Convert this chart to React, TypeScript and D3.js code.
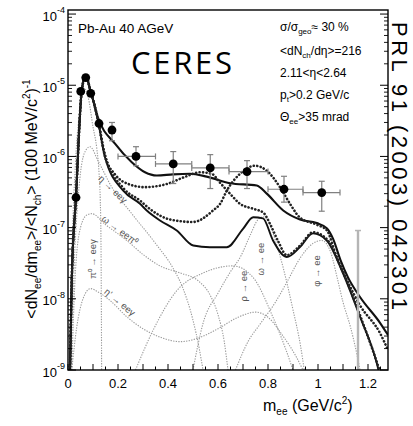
import React from "react";
import * as d3 from "d3";

const W = 413;
const H = 426;

// ---- data points (CERES Pb-Au 40 AGeV) ----
const massPts = [0.032, 0.051, 0.071, 0.091, 0.124, 0.176, 0.272, 0.421, 0.569, 0.716, 0.864, 1.015];
const yieldPts = [2.65e-7, 8.2e-6, 1.28e-5, 7.7e-6, 2.9e-6, 2.35e-6, 1.0e-6, 7.85e-7, 6.9e-7, 6.12e-7, 3.46e-7, 3.11e-7];
const errHi = [null, null, null, null, null, 3.0e-6, 1.37e-6, 1.17e-6, 1.06e-6, 8.73e-7, 5.26e-7, 4.48e-7];
const errLo = [null, null, null, null, null, 1.66e-6, 7.4e-7, 4.16e-7, 3.54e-7, 3.54e-7, 2.28e-7, 1.7e-7];
const binLo = [null, null, null, null, null, null, 0.2, 0.35, 0.495, 0.644, 0.8, 0.94];
const binHi = [null, null, null, null, null, null, 0.35, 0.495, 0.644, 0.8, 0.94, 1.088];
const sysMass = 1.16;
const sysHi = 9.1e-8;
const sysLo = 1e-9;

// ---- model curves (thick black) ----
const inMedium: [number, number][] = [
  [0.008, 1e-9], [0.015, 1.8e-8], [0.032, 2.7e-7], [0.055, 8.4e-6], [0.071, 1.36e-5], [0.088, 8.9e-6],
  [0.12, 3.5e-6], [0.188, 1.51e-6], [0.255, 8.3e-7], [0.308, 6e-7], [0.355, 5.4e-7], [0.42, 5.6e-7],
  [0.488, 5.7e-7], [0.555, 5.2e-7], [0.648, 4.2e-7], [0.755, 3.9e-7], [0.795, 3.0e-7], [0.861, 1.74e-7],
  [0.928, 1.3e-7], [0.995, 1.16e-7], [1.035, 9.8e-8], [1.06, 7e-8], [1.09, 3.5e-8], [1.12, 2e-8],
  [1.168, 1.06e-8], [1.248, 4.6e-9], [1.28, 3.1e-9],
];
const droppingMass: [number, number][] = [
  [0.008, 1e-9], [0.015, 1.8e-8], [0.032, 2.7e-7], [0.055, 8.4e-6], [0.071, 1.36e-5], [0.088, 8.9e-6],
  [0.12, 3.3e-6], [0.148, 1.05e-6], [0.221, 3.6e-7], [0.288, 2.4e-7], [0.33, 1.8e-7], [0.408, 1.3e-7],
  [0.5, 1.2e-7], [0.58, 1.74e-7], [0.61, 2.2e-7], [0.635, 3.3e-7], [0.688, 5.7e-7], [0.748, 7.4e-7],
  [0.795, 6.3e-7], [0.848, 3.7e-7], [0.888, 2.16e-7], [0.928, 1.38e-7], [0.995, 1.1e-7], [1.035, 9.2e-8],
  [1.075, 3.8e-8], [1.12, 1.7e-8], [1.168, 8.1e-9], [1.248, 3.3e-9], [1.28, 1.9e-9],
];
const broadened: [number, number][] = [
  [0.008, 1e-9], [0.015, 1.8e-8], [0.032, 2.7e-7], [0.055, 8.4e-6], [0.071, 1.36e-5], [0.088, 8.9e-6],
  [0.12, 3.2e-6], [0.148, 1.0e-6], [0.188, 5.6e-7], [0.25, 4.0e-7], [0.308, 3.7e-7], [0.395, 4.1e-7],
  [0.47, 5.2e-7], [0.528, 6e-7], [0.575, 5.7e-7], [0.61, 4.2e-7], [0.648, 3.0e-7], [0.688, 2.16e-7],
  [0.741, 1.84e-7], [0.781, 1.63e-7], [0.808, 1.13e-7], [0.84, 6.5e-8], [0.875, 4.1e-8], [0.928, 5.6e-8],
  [0.98, 8.6e-8], [1.035, 6.9e-8], [1.1, 2.4e-8], [1.168, 5.9e-9], [1.235, 1.3e-9], [1.25, 9e-10],
];
const cocktail: [number, number][] = [
  [0.008, 1e-9], [0.015, 1.8e-8], [0.032, 2.7e-7], [0.055, 8.4e-6], [0.071, 1.36e-5], [0.088, 8.9e-6],
  [0.12, 3.2e-6], [0.148, 9.7e-7], [0.221, 3.3e-7], [0.288, 2.16e-7], [0.315, 1.74e-7], [0.368, 1.26e-7],
  [0.435, 9.1e-8], [0.501, 5.6e-8], [0.568, 5.3e-8], [0.635, 5.3e-8], [0.7, 9.6e-8], [0.741, 1.4e-7],
  [0.78, 1.35e-7], [0.82, 6.6e-8], [0.875, 3.86e-8], [0.928, 5.33e-8], [0.98, 8.3e-8], [1.035, 6.6e-8],
  [1.1, 2.28e-8], [1.168, 5.6e-9], [1.235, 1.25e-9], [1.245, 9e-10],
];

// ---- cocktail components (thin grey dotted) ----
const pi0Dalitz: [number, number][] = [
  [0.008, 1e-9], [0.015, 3e-8], [0.03, 8e-7], [0.05, 5e-6], [0.065, 9e-6], [0.08, 7e-6], [0.1, 2.6e-6],
  [0.115, 1.3e-6], [0.124, 6e-7], [0.129, 2.5e-7], [0.132, 6e-8], [0.1345, 1e-9],
];
const etaDalitz: [number, number][] = [
  [0.012, 1e-9], [0.025, 3e-8], [0.045, 4e-7], [0.065, 1.1e-6], [0.088, 1.37e-6], [0.12, 8.7e-7],
  [0.175, 3.7e-7], [0.255, 1.57e-7], [0.35, 6e-8], [0.42, 2.7e-8], [0.46, 1.4e-8], [0.5, 5e-9],
  [0.525, 2e-9], [0.54, 1e-9],
];
const omegaDalitz: [number, number][] = [
  [0.015, 1e-9], [0.03, 2.5e-8], [0.05, 1e-7], [0.075, 1.5e-7], [0.095, 1.57e-7], [0.15, 1.1e-7],
  [0.235, 6.6e-8], [0.3, 4.2e-8], [0.368, 2.9e-8], [0.45, 2.3e-8], [0.52, 1.8e-8], [0.57, 1.1e-8],
  [0.6, 6e-9], [0.625, 2.5e-9], [0.64, 1e-9],
];
const etaPrimeDalitz: [number, number][] = [
  [0.015, 1e-9], [0.035, 4e-9], [0.06, 1e-8], [0.09, 1.39e-8], [0.12, 1.25e-8], [0.168, 9.5e-9],
  [0.235, 5.6e-9], [0.3, 3.8e-9], [0.368, 2.9e-9], [0.45, 2.5e-9], [0.52, 2.8e-9], [0.6, 3.8e-9],
  [0.68, 5.5e-9], [0.75, 6.5e-9], [0.8, 5.5e-9], [0.86, 3e-9], [0.91, 1.6e-9], [0.94, 1e-9],
];
const rhoEE: [number, number][] = [
  [0.27, 1e-9], [0.34, 3.6e-9], [0.435, 1.3e-8], [0.54, 2.3e-8], [0.66, 2.9e-8], [0.74, 2e-8],
  [0.82, 5.5e-9], [0.87, 2e-9], [0.9, 1e-9],
];
const omegaEE: [number, number][] = [
  [0.5, 1e-9], [0.54, 4.5e-9], [0.6, 1.2e-8], [0.65, 2.4e-8], [0.69, 3.9e-8], [0.73, 8e-8], [0.76, 1.3e-7],
  [0.78, 1.42e-7], [0.8, 1.25e-7], [0.83, 6.5e-8], [0.86, 2.8e-8], [0.9, 7e-9], [0.93, 2.2e-9], [0.945, 1e-9],
];
const phiEE: [number, number][] = [
  [0.67, 1e-9], [0.72, 2.5e-9], [0.77, 4.5e-9], [0.83, 9e-9], [0.875, 1.7e-8], [0.93, 3.8e-8], [0.98, 6e-8],
  [1.015, 6.6e-8], [1.05, 4.6e-8], [1.075, 2.1e-8], [1.1, 9e-9], [1.13, 4e-9], [1.155, 1.7e-9], [1.168, 1e-9],
];

// ---- axes ----
const xTickLabels = [0, 0.2, 0.4, 0.6, 0.8, 1, 1.2];
const yDecades = [-9, -8, -7, -6, -5, -4];

const FONT = "'Liberation Sans', Arial, Helvetica, sans-serif";

export default function App() {
  const x = d3.scaleLinear().domain([0, 1.28]).range([68, 388]);
  const y = d3.scaleLog().domain([1e-9, 1.14e-4]).range([370, 10]);
  const line = d3
    .line<[number, number]>()
    .x((d) => x(d[0]))
    .y((d) => y(d[1]))
    .curve(d3.curveMonotoneX);

  const x0 = x(0), x1 = x(1.28), yB = y(1e-9), yT = y(1.14e-4);

  const xMinor = d3.range(0, 1.2801, 0.05);
  const yMinor: number[] = [];
  for (let e = -9; e <= -4; e++) for (let k = 2; k <= 9; k++) {
    const v = k * Math.pow(10, e);
    if (v < 1.14e-4) yMinor.push(v);
  }

  const greyStyle = { fill: "none", stroke: "#9a9a9a", strokeWidth: 1.1, strokeDasharray: "1.3,1.3" };
  const compLabel = (txt: React.ReactNode, cx: number, cy: number, rot: number, key: string) => (
    <text key={key} transform={`translate(${cx},${cy}) rotate(${rot})`} textAnchor="middle"
      dominantBaseline="central" fontSize={9.5} fill="#555" fontFamily={FONT}>{txt}</text>
  );

  return (
    <svg width={W} height={H} style={{ display: "block", position: "absolute", left: 0, top: 0 }}>
      <rect x={0} y={0} width={W} height={H} fill="#fff" />
      <defs>
        <clipPath id="plot">
          <rect x={x0} y={yT} width={x1 - x0} height={yB - yT} />
        </clipPath>
      </defs>

      <g clipPath="url(#plot)">
        {[pi0Dalitz, etaDalitz, omegaDalitz, etaPrimeDalitz, rhoEE, omegaEE, phiEE].map((c, i) => (
          <path key={"g" + i} d={line(c) || ""} style={greyStyle} />
        ))}
        <path d={line(cocktail) || ""} fill="none" stroke="#111" strokeWidth={1.9} />
        <path d={line(inMedium) || ""} fill="none" stroke="#111" strokeWidth={2.1} />
        <path d={line(broadened) || ""} fill="none" stroke="#222" strokeWidth={2.6}
          strokeDasharray="0.1,3.4" strokeLinecap="round" />
        <path d={line(droppingMass) || ""} fill="none" stroke="#222" strokeWidth={2.6}
          strokeDasharray="0.1,3.4" strokeLinecap="round" />

        {/* systematic bar */}
        <line x1={x(sysMass)} x2={x(sysMass)} y1={y(sysHi)} y2={y(sysLo)} stroke="#b5b5b5" strokeWidth={2.4} />
        <line x1={x(sysMass) - 3} x2={x(sysMass) + 3} y1={y(sysHi)} y2={y(sysHi)} stroke="#b5b5b5" strokeWidth={1.5} />

        {/* error bars */}
        {massPts.map((m, i) => (
          <g key={"e" + i} stroke="#808080" strokeWidth={1.2}>
            {errHi[i] != null && (
              <>
                <line x1={x(m)} x2={x(m)} y1={y(errHi[i] as number)} y2={y(errLo[i] as number)} />
                <line x1={x(m) - 3} x2={x(m) + 3} y1={y(errHi[i] as number)} y2={y(errHi[i] as number)} />
                <line x1={x(m) - 3} x2={x(m) + 3} y1={y(errLo[i] as number)} y2={y(errLo[i] as number)} />
              </>
            )}
            {binLo[i] != null && (
              <>
                <line x1={x(binLo[i] as number)} x2={x(binHi[i] as number)} y1={y(yieldPts[i])} y2={y(yieldPts[i])} />
                <line x1={x(binLo[i] as number)} x2={x(binLo[i] as number)} y1={y(yieldPts[i]) - 3} y2={y(yieldPts[i]) + 3} />
                <line x1={x(binHi[i] as number)} x2={x(binHi[i] as number)} y1={y(yieldPts[i]) - 3} y2={y(yieldPts[i]) + 3} />
              </>
            )}
          </g>
        ))}
        {massPts.map((m, i) => (
          <circle key={"p" + i} cx={x(m)} cy={y(yieldPts[i])} r={4.4} fill="#000" />
        ))}
      </g>

      {/* frame */}
      <rect x={x0} y={yT} width={x1 - x0} height={yB - yT} fill="none" stroke="#000" strokeWidth={1.4} />

      {/* x ticks */}
      {xMinor.map((v, i) => {
        const major = Math.abs(v * 10 - Math.round(v * 10)) < 1e-6;
        return <line key={"xt" + i} x1={x(v)} x2={x(v)} y1={yB} y2={yB - (major ? 6 : 3.5)} stroke="#000" strokeWidth={1} />;
      })}
      {xTickLabels.map((v) => (
        <text key={"xl" + v} x={x(v)} y={388} textAnchor="middle" fontSize={13} fontFamily={FONT}>{String(v)}</text>
      ))}

      {/* y ticks */}
      {yDecades.map((e) => {
        const v = Math.pow(10, e);
        return (
          <g key={"yd" + e}>
            <line x1={x0} x2={x0 + 8} y1={y(v)} y2={y(v)} stroke="#000" strokeWidth={1} />
            <line x1={x1} x2={x1 - 8} y1={y(v)} y2={y(v)} stroke="#000" strokeWidth={1} />
            <text x={65} y={y(v) + 6.5} textAnchor="end" fontSize={13} fontFamily={FONT}>
              10<tspan dy={-7.5} fontSize={9}>{String(e)}</tspan>
            </text>
          </g>
        );
      })}
      {yMinor.map((v, i) => (
        <g key={"ym" + i}>
          <line x1={x0} x2={x0 + 4} y1={y(v)} y2={y(v)} stroke="#000" strokeWidth={0.9} />
          <line x1={x1} x2={x1 - 4} y1={y(v)} y2={y(v)} stroke="#000" strokeWidth={0.9} />
        </g>
      ))}

      {/* axis titles */}
      <text x={263} y={411} fontSize={16} fontFamily={FONT}>
        m<tspan dy={4} fontSize={10}>ee</tspan><tspan dy={-4}> (GeV/c</tspan><tspan dy={-7} fontSize={10}>2</tspan><tspan dy={7}>)</tspan>
      </text>
      <text transform="translate(37,199) rotate(-90)" textAnchor="middle" fontSize={16} fontFamily={FONT}>
        {"<dN"}<tspan dy={4} fontSize={10}>ee</tspan><tspan dy={-4}>/dm</tspan><tspan dy={4} fontSize={10}>ee</tspan>
        <tspan dy={-4}>{">/<N"}</tspan><tspan dy={4} fontSize={10}>ch</tspan><tspan dy={-4}>{"> (100 MeV/c"}</tspan>
        <tspan dy={-7} fontSize={10}>2</tspan><tspan dy={7}>)</tspan><tspan dy={-7} fontSize={10}>-1</tspan>
      </text>

      {/* annotations */}
      <text x={78} y={33} fontSize={13.5} fontFamily={FONT}>Pb-Au 40 AGeV</text>
      <text x={131} y={74} fontSize={31} fontFamily="'Open Sans', sans-serif" textLength={101} lengthAdjust="spacing">CERES</text>

      <g fontSize={12} fontFamily={FONT}>
        <text x={280} y={31}>σ/σ<tspan dy={3} fontSize={8}>geo</tspan><tspan dy={-3}>≈ 30 %</tspan></text>
        <text x={280} y={55}>{"<dN"}<tspan dy={3} fontSize={8}>ch</tspan><tspan dy={-3}>{"/dη>=216"}</tspan></text>
        <text x={280} y={77}>{"2.11<η<2.64"}</text>
        <text x={280} y={99}>p<tspan dy={3} fontSize={8}>t</tspan><tspan dy={-3}>{">0.2 GeV/c"}</tspan></text>
        <text x={280} y={121}>Θ<tspan dy={3} fontSize={8}>ee</tspan><tspan dy={-3}>{">35 mrad"}</tspan></text>
      </g>

      <text transform="translate(392,22) rotate(90)" fontSize={22} fontFamily={FONT}
        textLength={288} lengthAdjust="spacing">PRL 91 (2003) 042301</text>

      {compLabel("η → eeγ", 113, 189, 44, "l1")}
      {compLabel("ω → eeπ⁰", 120, 230, 37, "l2")}
      {compLabel("π⁰ → eeγ", 92, 259, -90, "l3")}
      {compLabel("η' → eeγ", 120, 302, 40, "l4")}
      {compLabel("ρ → ee", 243.5, 286, -90, "l5")}
      {compLabel("ω → ee", 260, 259, -90, "l6")}
      {compLabel("φ → ee", 316.5, 271, -90, "l7")}
    </svg>
  );
}
